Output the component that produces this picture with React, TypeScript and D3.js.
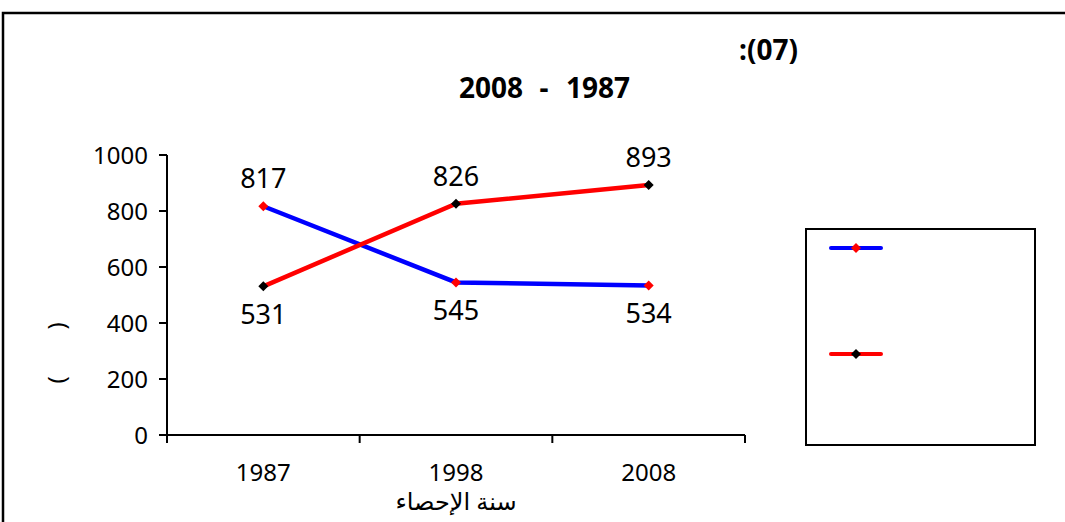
import React, { useEffect, useRef } from "react";
import * as d3 from "d3";

const categories = ["1987", "1998", "2008"];
const seriesBlue = [817, 545, 534];
const seriesRed = [531, 826, 893];
const yTicks = [0, 200, 400, 600, 800, 1000];

export default function App() {
  const ref = useRef<SVGSVGElement>(null);
  useEffect(() => {
    const svg = d3.select(ref.current);
    svg.selectAll("*").remove();
    const font = "'Noto Sans', 'Open Sans', 'DejaVu Sans', sans-serif";

    // outer frame
    svg.append("path").attr("d", "M3,522 L3,13 L1065,13").attr("fill", "none").attr("stroke", "#000").attr("stroke-width", 2.5);

    const x0 = 167, x1 = 745, yTop = 155, yBot = 435;
    const x = d3.scaleBand().domain(categories).range([x0, x1]);
    const y = d3.scaleLinear().domain([0, 1000]).range([yBot, yTop]);

    // Titles
    svg.append("text").attr("x", 798).attr("y", 60).attr("text-anchor", "end")
      .attr("font-family", font).attr("font-weight", "bold").attr("font-size", 28).text(":(07)");
    const tAttrs = (s: any) => s.attr("font-family", font).attr("font-weight", "bold").attr("font-size", 28).attr("y", 98);
    svg.append("text").call(tAttrs).attr("x", 523).attr("text-anchor", "end").text("2008");
    svg.append("text").call(tAttrs).attr("x", 544).attr("text-anchor", "middle").text("-");
    svg.append("text").call(tAttrs).attr("x", 566).attr("text-anchor", "start").text("1987");

    const g = svg.append("g");
    // y axis
    g.append("line").attr("x1", x0).attr("x2", x0).attr("y1", yTop).attr("y2", yBot + 8).attr("stroke", "#000").attr("stroke-width", 2);
    yTicks.forEach(t => {
      g.append("line").attr("x1", x0 - 8).attr("x2", x0).attr("y1", y(t)).attr("y2", y(t)).attr("stroke", "#000").attr("stroke-width", 2);
      g.append("text").attr("x", 148).attr("y", y(t)).attr("dy", "0.36em").attr("text-anchor", "end")
        .attr("font-family", font).attr("font-size", 24).text(String(t));
    });
    // x axis
    g.append("line").attr("x1", x0 - 8).attr("x2", x1).attr("y1", yBot).attr("y2", yBot).attr("stroke", "#000").attr("stroke-width", 2);
    const bw = x.bandwidth();
    [...categories.map(c => x(c) as number), x1].forEach(px => {
      g.append("line").attr("x1", px).attr("x2", px).attr("y1", yBot).attr("y2", yBot + 8).attr("stroke", "#000").attr("stroke-width", 2);
    });
    categories.forEach(c => {
      g.append("text").attr("x", (x(c) as number) + bw / 2).attr("y", 481).attr("text-anchor", "middle")
        .attr("font-family", font).attr("font-size", 24).text(c);
    });
    g.append("text").attr("x", 456).attr("y", 510).attr("text-anchor", "middle")
      .attr("font-family", font).attr("font-size", 24).text("سنة الإحصاء");
    // y label (rotated parentheses)
    g.append("text").attr("transform", "translate(57,380) rotate(-90)").attr("text-anchor", "middle").attr("dy", "0.35em")
      .attr("font-family", font).attr("font-size", 24).text("(");
    g.append("text").attr("transform", "translate(57,326) rotate(-90)").attr("text-anchor", "middle").attr("dy", "0.35em")
      .attr("font-family", font).attr("font-size", 24).text(")");

    const cx = (c: string) => (x(c) as number) + bw / 2;
    const line = d3.line<number>().x((_, i) => cx(categories[i])).y(d => y(d));
    const diamond = d3.symbol().type(d3.symbolSquare).size(50);

    const drawSeries = (vals: number[], lineColor: string, markColor: string) => {
      g.append("path").attr("d", line(vals)).attr("fill", "none").attr("stroke", lineColor).attr("stroke-width", 4.5);
      vals.forEach((v, i) => {
        g.append("path").attr("d", diamond()).attr("transform", `translate(${cx(categories[i])},${y(v)}) rotate(45)`).attr("fill", markColor);
      });
    };
    drawSeries(seriesBlue, "#0000ff", "#ff0000");
    drawSeries(seriesRed, "#ff0000", "#000000");

    // data labels
    categories.forEach((c, i) => {
      const b = seriesBlue[i], r = seriesRed[i];
      const hi = Math.max(b, r), lo = Math.min(b, r);
      g.append("text").attr("x", cx(c)).attr("y", y(hi) - 18).attr("text-anchor", "middle")
        .attr("font-family", font).attr("font-size", 27).text(String(hi));
      g.append("text").attr("x", cx(c)).attr("y", y(lo) + 38).attr("text-anchor", "middle")
        .attr("font-family", font).attr("font-size", 27).text(String(lo));
    });

    // legend
    svg.append("rect").attr("x", 806).attr("y", 229).attr("width", 229).attr("height", 216)
      .attr("fill", "none").attr("stroke", "#000").attr("stroke-width", 2);
    [
      { yy: 248, lc: "#0000ff", mc: "#ff0000" },
      { yy: 354, lc: "#ff0000", mc: "#000000" },
    ].forEach(l => {
      svg.append("line").attr("x1", 831).attr("x2", 881).attr("y1", l.yy).attr("y2", l.yy)
        .attr("stroke", l.lc).attr("stroke-width", 4).attr("stroke-linecap", "round");
      svg.append("path").attr("d", diamond()).attr("transform", `translate(856,${l.yy}) rotate(45)`).attr("fill", l.mc);
    });
  }, []);
  return (
    <svg ref={ref} width={1065} height={522} style={{ position: "absolute", left: 0, top: 0, background: "#fff" }} />
  );
}
